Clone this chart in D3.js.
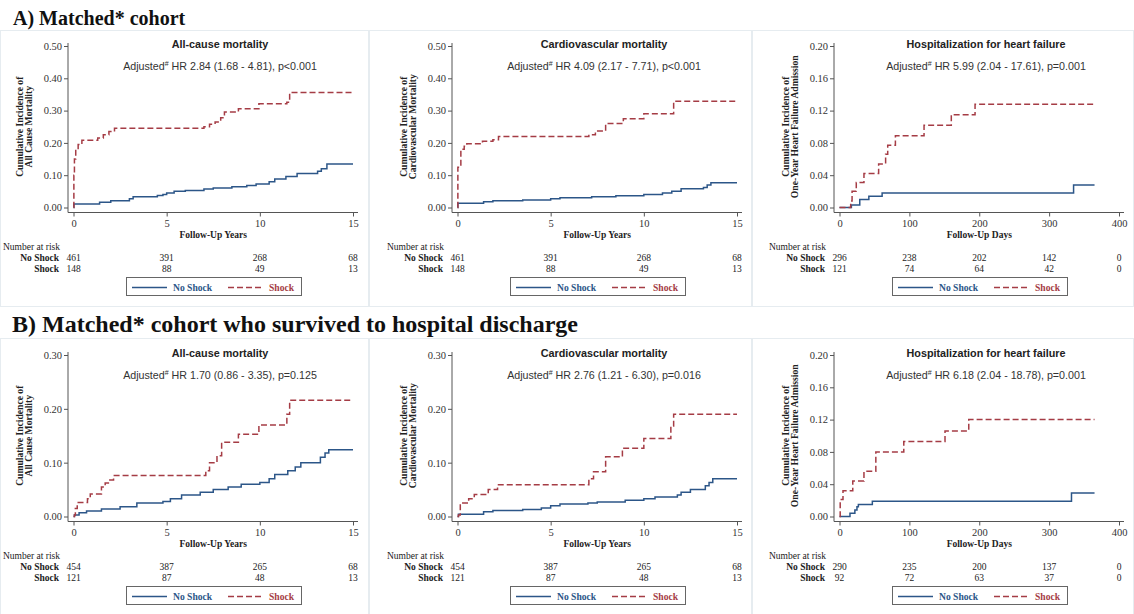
<!DOCTYPE html>
<html>
<head>
<meta charset="utf-8">
<script src="https://cdn.jsdelivr.net/npm/d3@7"></script>
<style>
  body { margin: 0; background: #fff; }
  svg { display: block; }
</style>
</head>
<body>
<svg id="chart"></svg>
<script>
// ---- data ----
var yearTicks = [0, 5, 10, 15];
var dayTicks = [0, 100, 200, 300, 400];
var yTicksA = [0, 0.1, 0.2, 0.3, 0.4, 0.5];
var yTicksB = [0, 0.1, 0.2, 0.3];
var yTicksHF = [0, 0.04, 0.08, 0.12, 0.16, 0.2];

var sectionTitles = ["A) Matched* cohort", "B) Matched* cohort who survived to hospital discharge"];
var panelTitles = ["All-cause mortality", "Cardiovascular mortality", "Hospitalization  for heart failure"];
var yTitles = ["All Cause Mortality", "Cardiovascular Mortality", "One-Year Heart Failure Admission"];
var hrTextsA = ["HR 2.84 (1.68 - 4.81), p<0.001", "HR 4.09 (2.17 - 7.71), p<0.001", "HR 5.99 (2.04 - 17.61), p=0.001"];
var hrTextsB = ["HR 1.70 (0.86 - 3.35), p=0.125", "HR 2.76 (1.21 - 6.30), p=0.016", "HR 6.18 (2.04 - 18.78), p=0.001"];

// number at risk
var riskA_allNo = [461, 391, 268, 68], riskA_allShock = [148, 88, 49, 13];
var riskA_hfNo = [296, 238, 202, 142, 0], riskA_hfShock = [121, 74, 64, 42, 0];
var riskB_allNo = [454, 387, 265, 68], riskB_allShock = [121, 87, 48, 13];
var riskB_hfNo = [290, 235, 200, 137, 0], riskB_hfShock = [92, 72, 63, 37, 0];

// step curves [time, cumulative incidence]
var aAllNoShock = [[0,0],[0.02,0.011],[1.4,0.016],[2.0,0.021],[3.0,0.027],[3.2,0.033],[4.5,0.037],[4.8,0.04],[5.0,0.045],[5.4,0.05],[6.0,0.053],[7.0,0.057],[7.5,0.06],[8.5,0.064],[9.3,0.068],[9.8,0.073],[10.5,0.08],[10.8,0.088],[11.4,0.096],[12.0,0.105],[13.1,0.112],[13.3,0.12],[13.6,0.135],[15,0.135]];
var aAllShock = [[0,0],[0.02,0.1],[0.05,0.15],[0.12,0.18],[0.25,0.195],[0.45,0.208],[1.3,0.215],[1.6,0.225],[1.9,0.235],[2.2,0.245],[7.0,0.25],[7.3,0.258],[7.6,0.265],[7.9,0.278],[8.1,0.296],[8.85,0.306],[9.95,0.321],[11.45,0.326],[11.6,0.356],[15,0.356]];
var aCvNoShock = [[0,0],[0.02,0.013],[1.4,0.018],[1.9,0.021],[3.5,0.023],[5.0,0.027],[5.5,0.03],[7.2,0.033],[8.5,0.036],[10.0,0.04],[11.0,0.045],[11.5,0.05],[12.0,0.058],[13.2,0.062],[13.4,0.07],[13.6,0.077],[15,0.077]];
var aCvShock = [[0,0],[0.02,0.125],[0.18,0.18],[0.36,0.19],[0.5,0.197],[1.34,0.205],[1.9,0.21],[2.2,0.22],[7.05,0.225],[7.4,0.237],[7.95,0.26],[8.9,0.275],[10.0,0.29],[11.6,0.329],[15,0.329]];
var aHfNoShock = [[0,0],[17,0.003],[29,0.01],[42,0.014],[61,0.018],[335,0.028],[365,0.028]];
var aHfShock = [[0,0],[16,0.008],[18,0.02],[24,0.031],[35,0.042],[56,0.054],[66,0.066],[69,0.077],[80,0.089],[121,0.102],[160,0.115],[194,0.128],[365,0.128]];

var bAllNoShock = [[0,0],[0.05,0.003],[0.3,0.007],[0.7,0.01],[1.5,0.014],[2.5,0.018],[3.4,0.025],[4.8,0.028],[5.2,0.033],[5.8,0.04],[6.8,0.045],[7.5,0.05],[8.3,0.055],[9.0,0.06],[10.0,0.063],[10.5,0.07],[10.8,0.078],[11.5,0.085],[11.9,0.092],[12.2,0.1],[13.25,0.11],[13.5,0.118],[13.7,0.124],[15,0.124]];
var bAllShock = [[0,0],[0.05,0.003],[0.1,0.015],[0.2,0.026],[0.75,0.033],[0.9,0.042],[1.5,0.055],[1.7,0.062],[1.95,0.068],[2.15,0.076],[7.1,0.085],[7.3,0.1],[7.7,0.113],[7.95,0.138],[8.85,0.153],[9.95,0.17],[11.45,0.19],[11.6,0.216],[15,0.216]];
var bCvNoShock = [[0,0],[0.05,0.004],[1.4,0.009],[1.9,0.011],[3.5,0.013],[4.5,0.016],[5.0,0.02],[5.5,0.023],[7.0,0.025],[7.5,0.027],[9.0,0.03],[10.0,0.033],[10.6,0.036],[11.8,0.04],[12.0,0.045],[12.5,0.05],[13.3,0.057],[13.5,0.063],[13.7,0.07],[15,0.07]];
var bCvShock = [[0,0],[0.05,0.003],[0.15,0.025],[0.6,0.033],[0.9,0.041],[1.65,0.05],[2.15,0.059],[7.05,0.07],[7.3,0.083],[7.95,0.111],[8.85,0.127],[10.0,0.145],[11.45,0.168],[11.6,0.19],[15,0.19]];
var bHfNoShock = [[0,0],[15,0.004],[22,0.008],[25,0.012],[27,0.015],[47,0.019],[332,0.029],[365,0.029]];
var bHfShock = [[0,0],[1,0.021],[5,0.032],[19,0.044],[35,0.056],[52,0.08],[92,0.093],[151,0.106],[185,0.12],[365,0.12]];

// ---- layout ----
var svgWidth = 1134;
var svgHeight = 614;
var colX = [68, 452, 834];     // y axis position of each column
var rowTop = [46, 355];        // top tick of each row
var plotH = 161.5;
var blue = "#2c5688", red = "#a53c45";
var serif = "'Liberation Serif','Times New Roman',serif";
var sans = "'Liberation Sans',Arial,sans-serif";

var svg = d3.select("#chart")
  .attr("width", svgWidth)
  .attr("height", svgHeight);

// faint panel frames
var frameColor = "#e6ecf0";
[[0, 30, 369, 276], [369, 30, 383, 276], [752, 30, 382, 276],
 [0, 338, 369, 276], [369, 338, 383, 276], [752, 338, 382, 276]].forEach(function (r) {
  svg.append("rect").attr("x", r[0] + 0.5).attr("y", r[1] + 0.5)
    .attr("width", r[2] - 1).attr("height", r[3])
    .attr("fill", "none").attr("stroke", frameColor).attr("stroke-width", 1);
});

// section headers
svg.append("text").attr("x", 13).attr("y", 25).text(sectionTitles[0])
  .style("font-family", serif).style("font-weight", "bold").style("font-size", "20px").attr("fill", "#111");
svg.append("text").attr("x", 12).attr("y", 332).text(sectionTitles[1])
  .style("font-family", serif).style("font-weight", "bold").style("font-size", "24px").attr("fill", "#111");

var panels = [
  { row: 0, col: 0, xMax: 15, xTicks: yearTicks, xTitle: "Follow-Up Years", yTicks: yTicksA, hr: hrTextsA[0], no: aAllNoShock, shock: aAllShock, riskNo: riskA_allNo, riskShock: riskA_allShock },
  { row: 0, col: 1, xMax: 15, xTicks: yearTicks, xTitle: "Follow-Up Years", yTicks: yTicksA, hr: hrTextsA[1], no: aCvNoShock, shock: aCvShock, riskNo: riskA_allNo, riskShock: riskA_allShock },
  { row: 0, col: 2, xMax: 400, xTicks: dayTicks, xTitle: "Follow-Up Days", yTicks: yTicksHF, hr: hrTextsA[2], no: aHfNoShock, shock: aHfShock, riskNo: riskA_hfNo, riskShock: riskA_hfShock },
  { row: 1, col: 0, xMax: 15, xTicks: yearTicks, xTitle: "Follow-Up Years", yTicks: yTicksB, hr: hrTextsB[0], no: bAllNoShock, shock: bAllShock, riskNo: riskB_allNo, riskShock: riskB_allShock },
  { row: 1, col: 1, xMax: 15, xTicks: yearTicks, xTitle: "Follow-Up Years", yTicks: yTicksB, hr: hrTextsB[1], no: bCvNoShock, shock: bCvShock, riskNo: riskB_allNo, riskShock: riskB_allShock },
  { row: 1, col: 2, xMax: 400, xTicks: dayTicks, xTitle: "Follow-Up Days", yTicks: yTicksHF, hr: hrTextsB[2], no: bHfNoShock, shock: bHfShock, riskNo: riskB_hfNo, riskShock: riskB_hfShock }
];

panels.forEach(function (p) {
  var ax = colX[p.col];
  var top = rowTop[p.row];
  var bottom = top + plotH;
  var axisY = bottom + 5;
  var g = svg.append("g");

  var x = d3.scaleLinear().domain([0, p.xMax]).range([ax + 5.5, ax + 285]);
  var y = d3.scaleLinear().domain([0, d3.max(p.yTicks)]).range([bottom, top]);

  // y axis
  var yAxis = g.append("g").attr("transform", "translate(" + ax + ",0)")
    .call(d3.axisLeft(y).tickValues(p.yTicks).tickFormat(d3.format(".2f")).tickSize(4).tickPadding(2));
  yAxis.select(".domain").remove();
  yAxis.selectAll("line").attr("stroke", "#555");
  yAxis.selectAll("text").style("font-family", serif).style("font-size", "10.5px").attr("fill", "#333");

  // x axis
  var xAxis = g.append("g").attr("transform", "translate(0," + axisY + ")")
    .call(d3.axisBottom(x).tickValues(p.xTicks).tickSize(4).tickPadding(3));
  xAxis.select(".domain").remove();
  xAxis.selectAll("line").attr("stroke", "#555");
  xAxis.selectAll("text").style("font-family", serif).style("font-size", "10.5px").attr("fill", "#333");

  g.append("line").attr("x1", ax).attr("x2", ax).attr("y1", top - 3).attr("y2", axisY)
    .attr("stroke", "#555").attr("stroke-width", 1);
  g.append("line").attr("x1", ax).attr("x2", ax + 290).attr("y1", axisY).attr("y2", axisY)
    .attr("stroke", "#555").attr("stroke-width", 1);

  // titles
  var cx = ax + 152;
  g.append("text").attr("x", cx).attr("y", top + 1.5).attr("text-anchor", "middle")
    .text(panelTitles[p.col])
    .style("font-family", sans).style("font-weight", "bold").style("font-size", "10.8px").attr("fill", "#222");
  var hr = g.append("text").attr("x", cx).attr("y", top + 24).attr("text-anchor", "middle")
    .style("font-family", sans).style("font-size", "10.7px").attr("fill", "#333");
  hr.append("tspan").text("Adjusted");
  hr.append("tspan").text("#").attr("dy", -4).style("font-size", "7px");
  hr.append("tspan").text(" " + p.hr).attr("dy", 4);

  // y title
  var ty = g.append("text").attr("transform", "translate(" + (ax - 45) + "," + ((top + bottom) / 2) + ") rotate(-90)")
    .attr("text-anchor", "middle")
    .style("font-family", serif).style("font-weight", "bold").style("font-size", "9.6px").attr("fill", "#222");
  ty.append("tspan").attr("x", 0).attr("y", 0).text("Cumulative Incidence of");
  ty.append("tspan").attr("x", 0).attr("y", 8.5).text(yTitles[p.col]);

  // x title
  g.append("text").attr("x", (x.range()[0] + x.range()[1]) / 2).attr("y", axisY + 25)
    .attr("text-anchor", "middle").text(p.xTitle)
    .style("font-family", serif).style("font-weight", "bold").style("font-size", "9.5px").attr("fill", "#222");

  // curves
  var line = d3.line().x(function (d) { return x(d[0]); }).y(function (d) { return y(d[1]); })
    .curve(d3.curveStepAfter);
  g.append("path").datum(p.no).attr("d", line).attr("fill", "none")
    .attr("stroke", blue).attr("stroke-width", 1.5);
  g.append("path").datum(p.shock).attr("d", line).attr("fill", "none")
    .attr("stroke", red).attr("stroke-width", 1.5).attr("stroke-dasharray", "6,3");

  // number at risk
  var rTop = top + 204;
  g.append("text").attr("x", ax - 65).attr("y", rTop).text("Number at risk")
    .style("font-family", serif).style("font-size", "9.5px").attr("fill", "#222");
  [["No Shock", p.riskNo, rTop + 11], ["Shock", p.riskShock, rTop + 22]].forEach(function (r) {
    g.append("text").attr("x", ax - 9).attr("y", r[2]).attr("text-anchor", "end").text(r[0])
      .style("font-family", serif).style("font-weight", "bold").style("font-size", "9.5px").attr("fill", "#222");
    g.selectAll(null).data(r[1]).enter().append("text")
      .attr("x", function (d, i) { return x(p.xTicks[i]); })
      .attr("y", r[2]).attr("text-anchor", "middle").text(function (d) { return d; })
      .style("font-family", serif).style("font-size", "9.5px").attr("fill", "#222");
  });

  // legend
  var lt = top + 231;
  var lg = g.append("g");
  lg.append("rect").attr("x", ax + 58.5).attr("y", lt + 0.5).attr("width", 175).attr("height", 18)
    .attr("fill", "#fff").attr("stroke", "#666").attr("stroke-width", 1);
  lg.append("line").attr("x1", ax + 64).attr("x2", ax + 99).attr("y1", lt + 10.5).attr("y2", lt + 10.5)
    .attr("stroke", blue).attr("stroke-width", 1.5);
  lg.append("text").attr("x", ax + 105).attr("y", lt + 14).text("No Shock")
    .style("font-family", serif).style("font-weight", "bold").style("font-size", "9.6px").attr("fill", blue);
  lg.append("line").attr("x1", ax + 160).attr("x2", ax + 195).attr("y1", lt + 10.5).attr("y2", lt + 10.5)
    .attr("stroke", red).attr("stroke-width", 1.5).attr("stroke-dasharray", "6,3");
  lg.append("text").attr("x", ax + 201).attr("y", lt + 14).text("Shock")
    .style("font-family", serif).style("font-weight", "bold").style("font-size", "9.6px").attr("fill", red);
});
</script>
</body>
</html>
